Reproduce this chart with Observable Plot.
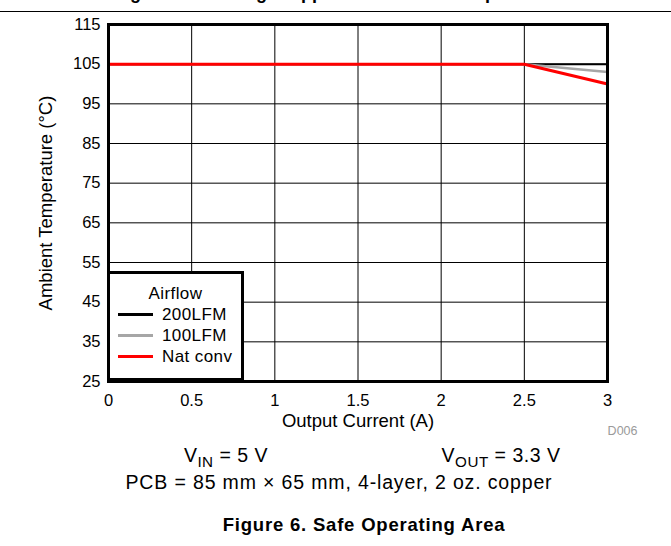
<!DOCTYPE html>
<html>
<head>
<meta charset="utf-8">
<script src="https://cdn.jsdelivr.net/npm/d3@7"></script>
<script src="https://cdn.jsdelivr.net/npm/@observablehq/plot@0.6"></script>
<style>
  html, body { margin: 0; padding: 0; background: white; }
  #page { position: relative; width: 671px; height: 546px; overflow: hidden; font-family: "Liberation Sans", Arial, Helvetica, sans-serif; color: black; }
  #toptitle { position: absolute; left: 0; top: 0; width: 671px; height: 11px; overflow: hidden; }
  #toptitle span { position: absolute; left: 0; width: 671px; top: -16px; text-align: center; font-weight: bold; font-size: 18px; line-height: 1; }
  #rule { position: absolute; left: 0; top: 11px; width: 671px; height: 0; border-top: 1.5px solid black; }
  #chart { position: absolute; left: 0; top: 12px; }
  #legend { position: absolute; left: 107px; top: 271px; width: 137px; height: 110px; box-sizing: border-box; border: 3px solid black; background: white; font-size: 17px; padding-top: 9px; letter-spacing: 0.4px; }
  #legend .row { height: 21px; line-height: 21px; display: flex; align-items: center; }
  #legend .title { justify-content: center; }
  #legend .sw { width: 35px; margin-left: 8px; margin-right: 9px; }
  .centered { position: absolute; width: 600px; text-align: center; white-space: nowrap; line-height: 1; }
  sub { font-size: 0.78em; vertical-align: -0.3em; line-height: 0; }
</style>
</head>
<body>
<div id="page">
  <div id="toptitle"><span>Figure 5. Derating: Supported Ambient Temperature</span></div>
  <div id="rule"></div>
  <div id="chart"></div>
  <div id="legend"></div>
  <div class="centered" id="vin" style="left:-74px; top:446px; font-size:19.5px; letter-spacing:0.5px;">V<sub>IN</sub> = 5 V</div>
  <div class="centered" id="vout" style="left:201px; top:446px; font-size:19.5px; letter-spacing:0.5px;">V<sub>OUT</sub> = 3.3 V</div>
  <div class="centered" id="pcb" style="left:39px; top:473px; font-size:19.5px; letter-spacing:0.85px;">PCB = 85 mm × 65 mm, 4-layer, 2 oz. copper</div>
  <div class="centered" id="caption" style="left:64px; top:516px; font-size:18.5px; font-weight:bold; letter-spacing:0.8px;">Figure 6. Safe Operating Area</div>
</div>
<script>
// ---- data ----
const current = [0, 2.5, 3];               // Output Current (A)
const temp200LFM = [105, 105, 105];        // Ambient Temperature (°C)
const temp100LFM = [105, 105, 103];
const tempNatConv = [105, 105, 100];
const seriesNames = ["200LFM", "100LFM", "Nat conv"];
const seriesColors = ["#000000", "#a6a6a6", "#ff0000"];
const xTicks = [0, 0.5, 1, 1.5, 2, 2.5, 3];
const yTicks = [25, 35, 45, 55, 65, 75, 85, 95, 105, 115];
const xLabel = "Output Current (A)";
const yLabel = "Ambient Temperature (°C)";
const legendTitle = "Airflow";
const figId = "D006";

const seriesValues = [temp200LFM, temp100LFM, tempNatConv];
const rows = seriesValues.flatMap((vals, i) =>
  current.map((c, j) => ({series: seriesNames[i], current: c, temp: vals[j]})));
const widths = [2, 2.5, 3];
const font = '"Liberation Sans", Arial, Helvetica, sans-serif';

const chart = Plot.plot({
  width: 671,
  height: 430,
  marginTop: 12,
  marginLeft: 108,
  marginRight: 64,
  marginBottom: 61,
  style: {fontFamily: font, fontSize: "16.5px", color: "black", background: "white", overflow: "visible"},
  x: {domain: [0, 3], label: null},
  y: {domain: [25, 115], label: null},
  marks: [
    Plot.gridX(xTicks, {stroke: "black", strokeOpacity: 1, strokeWidth: 1}),
    Plot.gridY(yTicks, {stroke: "black", strokeOpacity: 1, strokeWidth: 1}),
    Plot.axisX(xTicks, {tickSize: 0, tickPadding: 12.5, fontSize: 16.5, tickFormat: d => String(d), label: null}),
    Plot.axisY(yTicks, {tickSize: 0, tickPadding: 8, fontSize: 16.5, tickFormat: d => String(d), label: null}),
    ...seriesNames.map((name, i) =>
      Plot.line(rows.filter(r => r.series === name), {x: "current", y: "temp", stroke: seriesColors[i], strokeWidth: widths[i]})),
    Plot.frame({stroke: "black", strokeWidth: 3}),
    Plot.text([xLabel], {frameAnchor: "bottom", dy: 40, fontSize: 18.5, lineAnchor: "middle"}),
    Plot.text([yLabel], {frameAnchor: "left", dx: -62, rotate: -90, fontSize: 18.5, textAnchor: "middle", lineAnchor: "middle"}),
    Plot.text([figId], {frameAnchor: "bottom-right", dx: 30, dy: 49, fontSize: 12.5, fill: "#9a9a9a", textAnchor: "end", lineAnchor: "middle"})
  ]
});
document.getElementById("chart").appendChild(chart);

// legend
const legend = document.getElementById("legend");
const t = document.createElement("div");
t.className = "row title";
t.textContent = legendTitle;
legend.appendChild(t);
seriesNames.forEach((name, i) => {
  const r = document.createElement("div");
  r.className = "row";
  const sw = document.createElement("div");
  sw.className = "sw";
  sw.style.height = "3px";
  sw.style.background = seriesColors[i];
  const lab = document.createElement("span");
  lab.textContent = name;
  r.appendChild(sw);
  r.appendChild(lab);
  legend.appendChild(r);
});
</script>
</body>
</html>
